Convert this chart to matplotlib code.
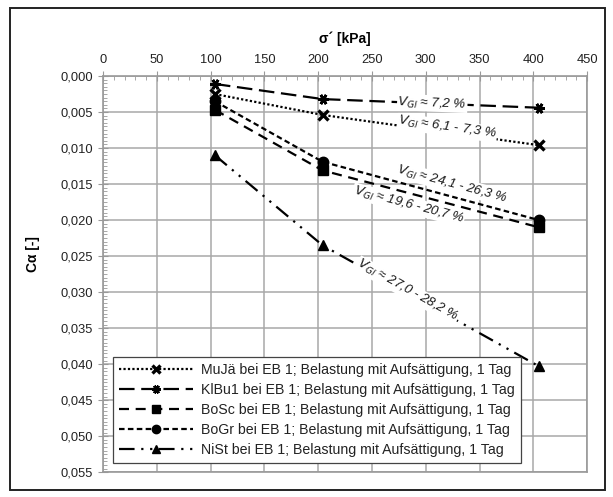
import numpy as np
import matplotlib
matplotlib.use("Agg")
import matplotlib.pyplot as plt
from matplotlib.patches import Rectangle
from matplotlib.ticker import MultipleLocator, FuncFormatter

plt.rcParams['font.family'] = ['Liberation Sans', 'DejaVu Sans']

# data
sigma = [104, 204, 405]
muja = [0.0025, 0.0054, 0.0096]
klbu = [0.0011, 0.0032, 0.0044]
bosc = [0.0047, 0.0131, 0.0210]
bogr = [0.0035, 0.0119, 0.0200]
nist = [0.0110, 0.0235, 0.0403]

labels = ["MuJä bei EB 1; Belastung mit Aufsättigung, 1 Tag",
          "KlBu1 bei EB 1; Belastung mit Aufsättigung, 1 Tag",
          "BoSc bei EB 1; Belastung mit Aufsättigung, 1 Tag",
          "BoGr bei EB 1; Belastung mit Aufsättigung, 1 Tag",
          "NiSt bei EB 1; Belastung mit Aufsättigung, 1 Tag"]

# annotation texts: (text, x, y, series used for slope)
notes = [("$V_{Gl}$ ≈ 7,2 %", 306, 0.0038, klbu),
         ("$V_{Gl}$ ≈ 6,1 - 7,3 %", 320, 0.0072, muja),
         ("$V_{Gl}$ ≈ 24,1 - 26,3 %", 324, 0.0150, bogr),
         ("$V_{Gl}$ ≈ 19,6 - 20,7 %", 284, 0.0179, bosc),
         ("$V_{Gl}$ ≈ 27,0 - 28,2 %", 283, 0.0298, nist)]

fig = plt.figure(figsize=(6.13, 4.97), dpi=100)
ax = fig.add_axes([0.168, 0.05, 0.79, 0.797])

k = dict(color="black", lw=1.6, ms=7.5)
ax.plot(sigma, muja, ls=(0, (1, 1)), marker="x", mew=2.4, label=labels[0], **k)
ax.plot(sigma, klbu, ls=(0, (7, 3)), marker=(6, 2, 90), mew=2.0, label=labels[1], **k)
ax.plot(sigma, bosc, ls=(0, (4.5, 3)), marker="s", label=labels[2], **k)
ax.plot(sigma, bogr, ls=(0, (2.5, 1.5)), marker="o", label=labels[3], **k)
ax.plot(sigma, nist, ls=(0, (7, 3, 1, 3, 1, 3)), marker="^", label=labels[4], **k)

ax.set_xlim(0, 450)
ax.set_ylim(0.055, 0.0)
ax.xaxis.tick_top()
ax.xaxis.set_label_position("top")
ax.xaxis.set_major_locator(MultipleLocator(50))
ax.xaxis.set_minor_locator(MultipleLocator(10))
ax.yaxis.set_major_locator(MultipleLocator(0.005))
ax.yaxis.set_minor_locator(MultipleLocator(0.0005))
ax.yaxis.set_major_formatter(FuncFormatter(lambda v, p: f"{v:.3f}".replace(".", ",")))
ax.tick_params(which="major", direction="inout", length=7, color="#999999",
               labelsize=9.3, labelcolor="#222222")
ax.tick_params(which="minor", direction="in", length=3, color="#999999")
ax.tick_params(axis="x", which="both", top=True, bottom=False, pad=4)
for s in ax.spines.values():
    s.set_color("#999999")
    s.set_linewidth(1.2)
ax.grid(True, which="major", color="#a8a8a8", lw=1.1)
ax.set_axisbelow(True)

ax.set_xlabel("σ´ [kPa]", fontsize=10, fontweight="bold", labelpad=8)
ax.set_ylabel("Cα [-]", fontsize=10, fontweight="bold")
ax.yaxis.set_label_coords(-0.13, 0.55)

fig.canvas.draw()
for txt, x, y, ser in notes:
    p0 = ax.transData.transform((sigma[1], ser[1]))
    p1 = ax.transData.transform((sigma[2], ser[2]))
    ang = np.degrees(np.arctan2(p1[1] - p0[1], p1[0] - p0[0]))
    ax.text(x, y, txt, rotation=ang, rotation_mode="anchor", ha="center", va="center",
            fontsize=9.5, fontstyle="italic", color="#1a1a1a", zorder=5,
            bbox=dict(facecolor="white", edgecolor="none", pad=0.5))

leg = ax.legend(loc="lower left", bbox_to_anchor=(0.02, 0.022), fontsize=10.2,
                handlelength=5.2, frameon=True, fancybox=False, borderpad=0.45,
                labelspacing=0.42, handletextpad=0.6, borderaxespad=0, markerscale=0.8)
leg.get_frame().set_edgecolor("#444444")
leg.get_frame().set_linewidth(0.9)
leg.get_frame().set_alpha(1)
for t in leg.get_texts():
    t.set_color("#222222")

fig.add_artist(Rectangle((0.017, 0.014), 0.97, 0.97, transform=fig.transFigure,
                         fill=False, edgecolor="#222222", lw=1.4))

fig.savefig("out.png", dpi=100)
